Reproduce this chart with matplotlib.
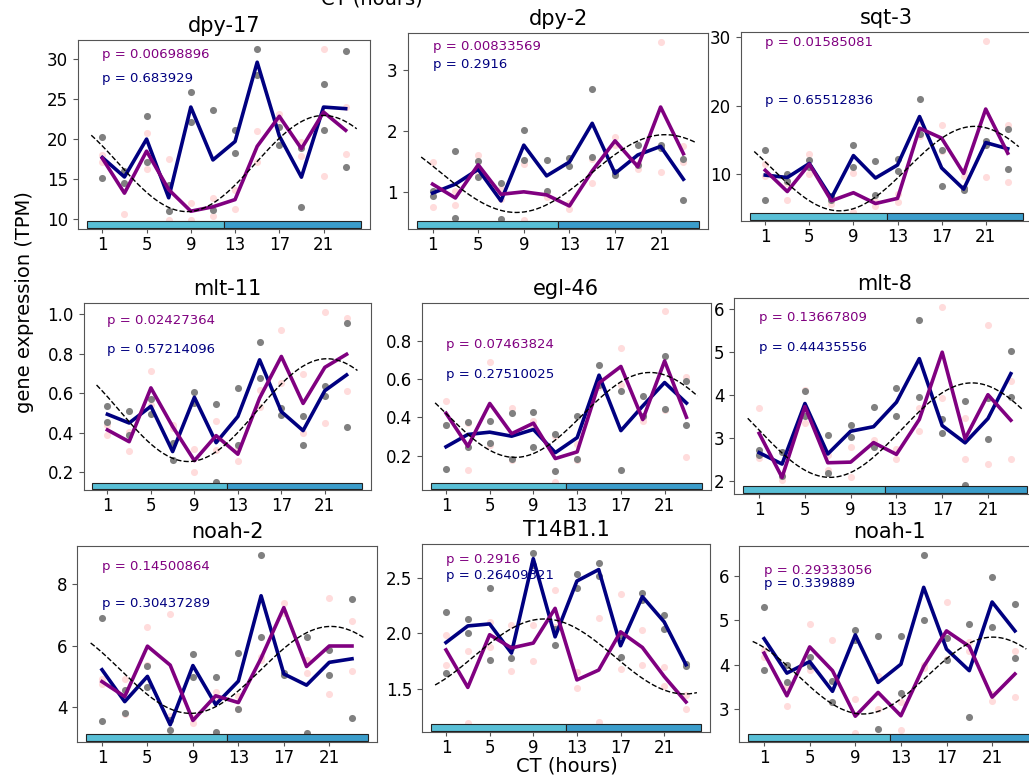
import numpy as np
import matplotlib
matplotlib.use("Agg")
import matplotlib.pyplot as plt
import matplotlib.transforms as mtransforms
from matplotlib.patches import Rectangle

# sampling times (CT, hours)
ct = [1, 3, 5, 7, 9, 11, 13, 15, 17, 19, 21, 23]

# two replicates per time point, grey group (navy mean) and pink group (purple mean)
dpy17_grey = [(20.2, 15.1), (14.45, 16.0), (22.8, 17.1), (14.25, 11.0), (25.8, 22.1), (23.6, 11.1),
              (21.1, 18.2), (31.2, 27.9), (21.5, 19.2), (11.5, 18.9), (26.8, 21.1), (31.0, 16.5)]
dpy17_pink = [(18.0, 17.1), (10.6, 15.8), (20.7, 16.2), (17.5, 9.8), (12.0, 9.9), (12.6, 10.4),
              (11.2, 13.6), (21.0, 17.1), (23.1, 22.5), (19.6, 17.9), (31.25, 15.4), (24.0, 18.1)]

dpy2_grey = [(1.03, 0.95), (1.68, 0.59), (1.505, 1.245), (1.15, 0.575), (2.01, 1.53), (1.52, 1.02),
             (1.56, 1.43), (2.68, 1.57), (1.33, 1.29), (1.78, 1.44), (1.77, 1.73), (0.88, 1.55)]
dpy2_pink = [(1.5, 0.77), (1.02, 0.80), (1.61, 1.29), (1.05, 0.89), (1.47, 0.55), (1.0, 0.92),
             (0.73, 0.83), (1.16, 1.54), (1.91, 1.77), (1.38, 1.46), (3.45, 1.33), (1.76, 1.5)]

sqt3_grey = [(13.5, 6.2), (10.0, 9.0), (12.05, 11.05), (6.8, 6.2), (14.3, 11.1), (11.85, 7.0),
             (12.25, 10.4), (20.9, 15.9), (8.3, 13.5), (7.65, 7.95), (14.9, 14.3), (16.6, 10.8)]
sqt3_pink = [(11.4, 9.7), (6.2, 8.7), (12.9, 10.0), (6.5, 5.7), (10.15, 4.4), (5.3, 6.1),
             (5.85, 7.05), (15.6, 17.8), (17.2, 13.3), (10.5, 9.7), (29.5, 9.5), (17.2, 8.9)]

mlt11_grey = [(0.534, 0.454), (0.513, 0.387), (0.571, 0.498), (0.261, 0.35), (0.608, 0.552), (0.547, 0.154),
              (0.629, 0.337), (0.861, 0.678), (0.525, 0.49), (0.486, 0.337), (0.639, 0.588), (0.954, 0.432)]
mlt11_pink = [(0.44, 0.39), (0.403, 0.308), (0.715, 0.54), (0.424, 0.44), (0.319, 0.2), (0.458, 0.314),
              (0.258, 0.326), (0.619, 0.533), (0.92, 0.653), (0.7, 0.398), (1.014, 0.449), (0.983, 0.612)]

egl46_grey = [(0.363, 0.13), (0.244, 0.378), (0.382, 0.264), (0.421, 0.183), (0.43, 0.244), (0.311, 0.121),
              (0.407, 0.182), (0.674, 0.568), (0.537, 0.125), (0.512, 0.408), (0.719, 0.446), (0.588, 0.363)]
egl46_pink = [(0.486, 0.358), (0.372, 0.126), (0.688, 0.258), (0.451, 0.179), (0.38, 0.36), (0.305, 0.065),
              (0.18, 0.26), (0.6, 0.56), (0.761, 0.572), (0.381, 0.397), (0.954, 0.437), (0.609, 0.193)]

mlt8_grey = [(2.73, 2.6), (2.68, 2.12), (3.52, 4.1), (3.07, 2.2), (3.31, 3.02), (3.74, 2.8),
             (4.16, 3.52), (5.75, 3.96), (3.46, 3.13), (3.88, 1.91), (3.93, 2.99), (5.04, 3.97)]
mlt8_pink = [(3.7, 2.53), (2.03, 2.15), (4.12, 3.36), (2.26, 2.6), (2.8, 2.09), (2.95, 2.85),
             (2.51, 2.74), (3.71, 3.17), (6.06, 3.95), (3.47, 2.51), (5.63, 2.4), (4.33, 2.51)]

noah2_grey = [(6.89, 3.54), (4.56, 3.8), (4.67, 5.33), (3.26, 3.6), (5.73, 4.97), (4.99, 3.18),
              (5.75, 3.94), (8.94, 6.29), (5.1, 5.06), (6.27, 3.16), (5.86, 5.05), (7.5, 3.64)]
noah2_pink = [(4.9, 4.76), (4.91, 3.78), (6.59, 5.37), (7.03, 3.7), (3.48, 3.66), (4.48, 4.26),
              (4.35, 3.95), (5.64, 5.54), (7.39, 7.07), (5.1, 5.54), (7.54, 4.43), (6.78, 5.19)]

t14b1_grey = [(2.194, 1.644), (2.13, 2.005), (2.407, 1.764), (1.779, 1.87), (2.725, 2.615), (1.9, 2.04),
              (2.53, 2.41), (2.63, 2.515), (1.79, 1.99), (2.36, 2.3), (2.167, 2.04), (1.73, 1.71)]
t14b1_pink = [(1.986, 1.72), (1.84, 1.194), (2.1, 1.878), (2.073, 1.668), (2.073, 1.755), (2.39, 2.06),
              (1.653, 1.515), (2.136, 1.209), (2.35, 1.68), (2.03, 1.72), (1.70, 1.53), (1.45, 1.323)]

noah1_grey = [(5.29, 3.88), (4.0, 3.62), (4.17, 3.97), (3.64, 3.16), (4.78, 4.56), (4.65, 2.55),
              (4.65, 3.37), (6.47, 5.01), (4.6, 4.1), (4.91, 2.82), (5.98, 4.84), (5.37, 4.15)]
noah1_pink = [(4.18, 4.34), (3.07, 3.53), (4.92, 3.88), (4.56, 3.17), (3.22, 2.46), (3.0, 3.75),
              (3.17, 2.53), (4.0, 3.92), (5.4, 4.12), (4.52, 4.3), (3.19, 3.35), (4.3, 3.28)]

genes = ["dpy-17", "dpy-2", "sqt-3", "mlt-11", "egl-46", "mlt-8", "noah-2", "T14B1.1", "noah-1"]
p_pink = ["0.00698896", "0.00833569", "0.01585081", "0.02427364", "0.07463824",
          "0.13667809", "0.14500864", "0.2916", "0.29333056"]
p_grey = ["0.683929", "0.2916", "0.65512836", "0.57214096", "0.27510025",
          "0.44435556", "0.30437289", "0.26409321", "0.339889"]

# cosine fit per gene: mesor, amplitude, period (h), peak time (h)
fit_mesor = [16.9, 1.307, 10.8, 0.515, 0.413, 3.19, 5.21, 1.794, 3.755]
fit_amp = [6.0, 0.633, 6.17, 0.26, 0.222, 1.10, 1.41, 0.336, 0.865]
fit_period = [24.7, 26.1, 24.5, 25.5, 24.7, 24.8, 24.7, 25.8, 22.8]
fit_peak = [21.0, 21.4, 20.0, 21.2, 19.66, 19.6, 21.15, 10.0, 21.06]

grey_sets = [dpy17_grey, dpy2_grey, sqt3_grey, mlt11_grey, egl46_grey, mlt8_grey, noah2_grey, t14b1_grey, noah1_grey]
pink_sets = [dpy17_pink, dpy2_pink, sqt3_pink, mlt11_pink, egl46_pink, mlt8_pink, noah2_pink, t14b1_pink, noah1_pink]

# panel boxes in pixels (left, top, right, bottom)
boxes = [(78, 40, 370, 229), (407.5, 33, 708.5, 229), (741, 32, 1032, 221),
         (83.5, 303, 370.5, 490), (422, 303, 710.5, 490), (734, 298, 1036, 494),
         (77, 546, 377, 742), (422, 544, 710, 732), (739, 546, 1040, 742)]
yticks = [[10, 15, 20, 25, 30], [1, 2, 3], [10, 20, 30], [0.2, 0.4, 0.6, 0.8, 1.0],
          [0.2, 0.4, 0.6, 0.8], [2, 3, 4, 5, 6], [4, 6, 8], [1.5, 2.0, 2.5], [3, 4, 5, 6]]
# y positions of the two p-value labels (data units)
text_y = [(30.54, 27.5), (3.38, 3.08), (29.17, 20.73), (0.969, 0.822), (0.784, 0.626),
          (5.81, 5.11), (8.56, 7.35), (2.665, 2.515), (6.12, 5.82)]

W, H = 1029, 776
fig = plt.figure(figsize=(W / 100, H / 100), dpi=100)

tt = np.linspace(0, 24, 200)

for i in range(9):
    l, t, r, b = boxes[i]
    ax = fig.add_axes([l / W, 1 - b / H, (r - l) / W, (b - t) / H])

    grey = np.array(grey_sets[i])
    pink = np.array(pink_sets[i])
    x2 = np.repeat(ct, 2)

    ax.scatter(x2, pink.ravel(), s=26, color="#ffdcdc", zorder=1, linewidths=0)
    ax.scatter(x2, grey.ravel(), s=26, color="gray", zorder=2, linewidths=0)
    ax.plot(ct, grey.mean(axis=1), color="navy", lw=2.6, zorder=3)
    ax.plot(ct, pink.mean(axis=1), color="purple", lw=2.6, zorder=3)

    fit = fit_mesor[i] + fit_amp[i] * np.cos(2 * np.pi * (tt - fit_peak[i]) / fit_period[i])
    ax.plot(tt, fit, "k--", lw=1, zorder=4)

    # light / dark bar along the bottom
    trans = mtransforms.blended_transform_factory(ax.transData, ax.transAxes)
    ax.add_patch(Rectangle((-0.4, 0.004), 12.4, 0.036, transform=trans,
                           facecolor="#58bfd6", edgecolor="#222222", lw=0.8, zorder=5))
    ax.add_patch(Rectangle((12, 0.004), 12.4, 0.036, transform=trans,
                           facecolor="#3b9dcb", edgecolor="#222222", lw=0.8, zorder=5))

    ax.text(1, text_y[i][0], "p = " + p_pink[i], color="purple", fontsize=9.5, va="center", zorder=6)
    ax.text(1, text_y[i][1], "p = " + p_grey[i], color="navy", fontsize=9.5, va="center", zorder=6)

    ax.set_xlim(-1.2, 25.2)
    ax.set_xticks([1, 5, 9, 13, 17, 21])
    ax.set_yticks(yticks[i])
    ax.tick_params(labelsize=12, color="#555555")
    ax.tick_params(axis="x", length=3, pad=2)
    for s in ax.spines.values():
        s.set_edgecolor("#555555")
    ax.set_title(genes[i], fontsize=15)

fig.text(25 / W, 1 - 302 / H, "gene expression (TPM)", rotation=90, fontsize=14, ha="center", va="center")
fig.text(567 / W, 1 - 766 / H, "CT (hours)", fontsize=14, ha="center", va="center")
fig.text(372 / W, 1 - 4.5 / H, "CT (hours)", fontsize=14, ha="center", va="baseline")

fig.savefig("out.png", dpi=100)
